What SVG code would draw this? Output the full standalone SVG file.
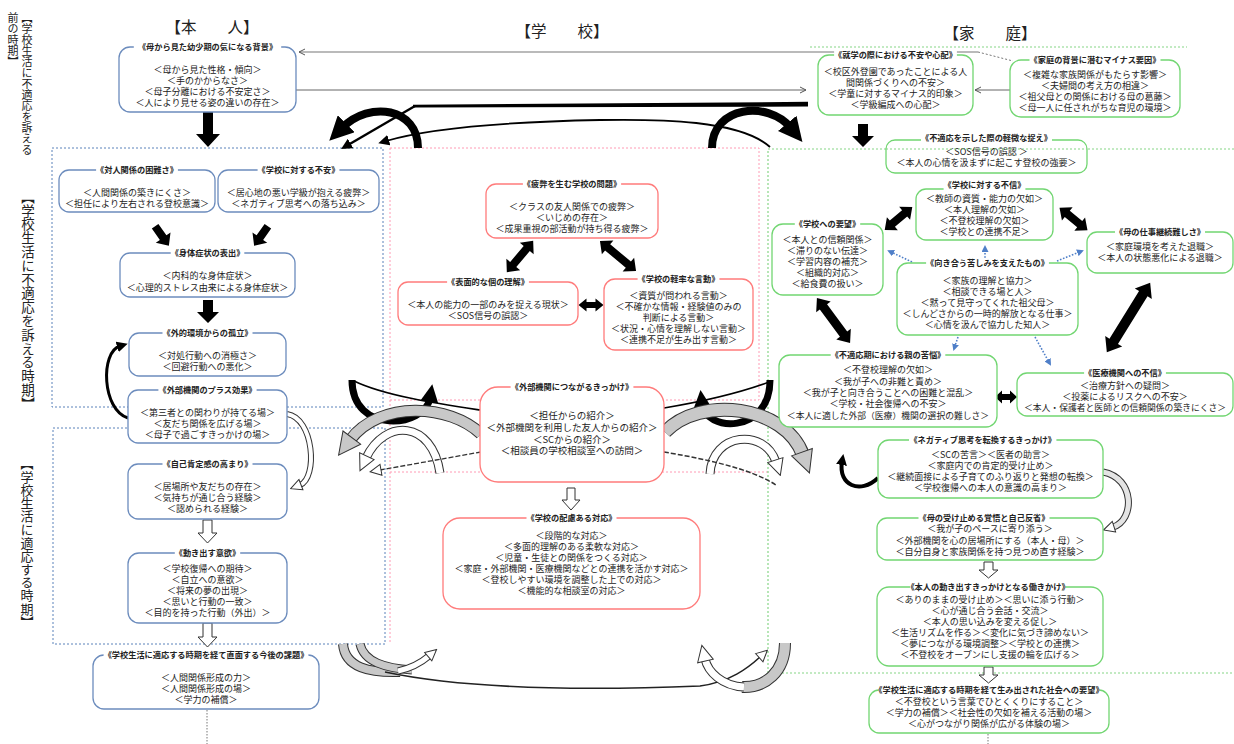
<svg xmlns="http://www.w3.org/2000/svg" width="1234" height="744" viewBox="0 0 1234 744">
<defs>
<style>
text{font-family:"Noto Sans CJK JP","Noto Sans CJK SC",sans-serif;fill:#222}
.t{font-size:9px;text-anchor:middle}
.t2{font-size:9.5px;text-anchor:middle}
.h{font-size:8.2px;font-weight:bold;text-anchor:middle}
.hd{font-size:15.5px;text-anchor:middle}
.v{writing-mode:vertical-rl}
.bx{fill:#fff;stroke-width:1.3}
.bl{stroke:#6c8cbd}
.rd{stroke:#ff7b7b}
.gr{stroke:#72d672}
.tb{fill:#fff}
.dotb{fill:none;stroke:#5b82ba;stroke-width:1;stroke-dasharray:2,2}
.dotp{fill:none;stroke:#ff9ab4;stroke-width:1;stroke-dasharray:2,2}
.dotg{fill:none;stroke:#86d686;stroke-width:1.2;stroke-dasharray:2,2}
.blk{fill:#000}
.wht{fill:#fff;stroke:#333;stroke-width:1}
.bo{fill:none;stroke:#333}
.bw{fill:none;stroke:#fff}
.bg{fill:none;stroke:#c8c8c8}
.ln{fill:none;stroke:#000}
.ba{fill:none;stroke:#4f7fc8;stroke-width:1.6;stroke-dasharray:1.6,1.6;marker-end:url(#mb)}
</style>
<marker id="mh" markerUnits="userSpaceOnUse" markerWidth="24" markerHeight="24" viewBox="0 0 24 24" refX="6" refY="12" orient="auto"><path d="M0,0 L24,12 L0,24z" fill="#000"/></marker>
<marker id="mm" markerUnits="userSpaceOnUse" markerWidth="18" markerHeight="18" viewBox="0 0 18 18" refX="4" refY="9" orient="auto"><path d="M0,0 L18,9 L0,18z" fill="#000"/></marker>
<marker id="ms" markerUnits="userSpaceOnUse" markerWidth="11" markerHeight="11" viewBox="0 0 11 11" refX="3" refY="5.5" orient="auto"><path d="M0,0 L11,5.5 L0,11z" fill="#000"/></marker>
<marker id="mt" markerUnits="userSpaceOnUse" markerWidth="8" markerHeight="8" viewBox="0 0 8 8" refX="7" refY="4" orient="auto"><path d="M1,1 L7,4 L1,7" fill="none" stroke="#555" stroke-width="1"/></marker>
<marker id="mw" markerUnits="userSpaceOnUse" markerWidth="18" markerHeight="18" viewBox="0 0 18 18" refX="3" refY="9" orient="auto"><path d="M1,1 L17,9 L1,17z" fill="#fff" stroke="#333" stroke-width="1"/></marker>
<marker id="mws" markerUnits="userSpaceOnUse" markerWidth="13" markerHeight="13" viewBox="0 0 13 13" refX="2" refY="6.5" orient="auto"><path d="M1,1 L12,6.5 L1,12z" fill="#fff" stroke="#333" stroke-width="1"/></marker>
<marker id="mg" markerUnits="userSpaceOnUse" markerWidth="24" markerHeight="24" viewBox="0 0 24 24" refX="4" refY="12" orient="auto"><path d="M1,1 L23,12 L1,23z" fill="#c8c8c8" stroke="#333" stroke-width="1"/></marker>
<marker id="mb" markerUnits="userSpaceOnUse" markerWidth="7" markerHeight="7" viewBox="0 0 7 7" refX="5" refY="3.5" orient="auto"><path d="M0,0 L7,3.5 L0,7z" fill="#4f7fc8"/></marker>
</defs>
<rect width="1234" height="744" fill="#fff"/>

<g id="regions">
<rect class="dotb" x="52" y="148" width="331" height="259"/>
<rect class="dotb" x="53" y="428" width="332" height="216"/>
<rect class="dotp" x="390" y="148" width="369" height="252"/>
<path class="dotp" d="M390,400 V643 M390,472 H768"/>
<path class="dotg" d="M1234,149 H768 V673 H1234 M810,47 H1187"/>
<path d="M207,710 V744 M988,734 V744" fill="none" stroke="#777" stroke-width="1" stroke-dasharray="1.5,1.5"/>
</g>

<g id="labels">
<text class="v" x="27" y="12" style="font-size:11px">【学校生活に不適応を訴える</text>
<text class="v" x="13" y="12" style="font-size:11px">前の時期】</text>
<text class="v" x="28" y="190" style="font-size:13.5px;letter-spacing:0.3px">【学校生活に不適応を訴える時期】</text>
<text class="v" x="27" y="457" style="font-size:13px;letter-spacing:0.2px">【学校生活に適応する時期】</text>
<text class="hd" x="212" y="33">【本　　人】</text>
<text class="hd" x="562" y="37">【学　　校】</text>
<text class="hd" x="990" y="39">【家　　庭】</text>
</g>

<g id="connectors">
<path d="M978,52 H299" fill="none" stroke="#777" stroke-width="1.2" marker-end="url(#mt)"/>
<path d="M978,52 L1013,61" fill="none" stroke="#777" stroke-width="1" stroke-dasharray="2,2"/>
<path d="M296,90 H806" fill="none" stroke="#666" stroke-width="1" marker-end="url(#mt)"/>
<path d="M1010,90 H975" fill="none" stroke="#666" stroke-width="1" marker-end="url(#mt)"/>
<polygon class="blk" points="413,104.8 808,101.8 808,106.6 413,107.4"/>
<path class="ln" d="M415,106 L348,145" stroke-width="2.4" marker-end="url(#ms)"/>
<path class="ln" d="M770,147 C740,120 660,119 600,120 C500,122 430,128 386,141" stroke-width="1.8" marker-end="url(#ms)"/>
<path class="ln" d="M418,148 C418,108 370,100 342,128" stroke-width="8" marker-end="url(#mh)"/>
<path class="ln" d="M712,148 C712,106 768,100 791,128" stroke-width="8" marker-end="url(#mh)"/>

<path class="blk" d="M203,110 H213 V134 H220 L208,147 L196,134 H203 Z"/>
<path class="blk" d="M858,124 H868 V136 H874 L863,147 L852,136 H858 Z"/>
<path class="blk" d="M203,300 H213 V312 H219 L208,323 L197,312 H203 Z"/>
<path class="blk" transform="translate(162,236) rotate(55)" d="M-12,-4 L2,-4 L2,-9 L12,0 L2,9 L2,4 L-12,4Z"/>
<path class="blk" transform="translate(261,236) rotate(125)" d="M-12,-4 L2,-4 L2,-9 L12,0 L2,9 L2,4 L-12,4Z"/>

<path class="wht" d="M203,520 H212 V533 H217 L207.5,543 L198,533 H203 Z"/>
<path class="wht" d="M203,623 H212 V637 H217 L207.5,647 L198,637 H203 Z"/>
<path class="wht" d="M567,488 H575 V500 H580 L571,510 L562,500 H567 Z"/>
<path class="wht" d="M984,562 H993 V570 H998 L988.5,578 L979,570 H984 Z"/>
<path class="wht" d="M984,667 H993 V675 H998 L988.5,683 L979,675 H984 Z"/>

<path class="blk" transform="translate(520,256.5) rotate(130)" d="M-20.5,0 L-10.5,-9 L-10.5,-4 L10.5,-4 L10.5,-9 L20.5,0 L10.5,9 L10.5,4 L-10.5,4 L-10.5,9Z"/>
<path class="blk" transform="translate(618,256) rotate(39.8)" d="M-23.5,0 L-13.5,-9 L-13.5,-4 L13.5,-4 L13.5,-9 L23.5,0 L13.5,9 L13.5,4 L-13.5,4 L-13.5,9Z"/>
<path class="blk" transform="translate(591,305)" d="M-12.5,0 L-4.5,-6.5 L-4.5,-3 L4.5,-3 L4.5,-6.5 L12.5,0 L4.5,6.5 L4.5,3 L-4.5,3 L-4.5,6.5Z"/>
<path class="blk" transform="translate(898.5,218.5) rotate(-40)" d="M-18,0 L-8,-8.5 L-8,-4 L8,-4 L8,-8.5 L18,0 L8,8.5 L8,4 L-8,4 L-8,8.5Z"/>
<path class="blk" transform="translate(1073.5,219) rotate(39)" d="M-18,0 L-8,-8.5 L-8,-4 L8,-4 L8,-8.5 L18,0 L8,8.5 L8,4 L-8,4 L-8,8.5Z"/>
<path class="blk" transform="translate(833.5,320.5) rotate(53.7)" d="M-28,0 L-17,-9 L-17,-4.5 L17,-4.5 L17,-9 L28,0 L17,9 L17,4.5 L-17,4.5 L-17,9Z"/>
<path class="blk" transform="translate(1006,397)" d="M-11,0 L-4,-6.5 L-4,-3 L4,-3 L4,-6.5 L11,0 L4,6.5 L4,3 L-4,3 L-4,6.5Z"/>
<path class="blk" transform="translate(1128.5,317.5) rotate(121.9)" d="M-41,0 L-28,-10 L-28,-5 L28,-5 L28,-10 L41,0 L28,10 L28,5 L-28,5 L-28,10Z"/>

<path class="ln" d="M128,418 C102,410 100,352 120,346" stroke-width="3" marker-end="url(#ms)"/>
<path class="bo" d="M287,414 C314,418 318,478 300,485" stroke-width="6"/>
<path class="bw" d="M287,414 C314,418 318,478 300,485" stroke-width="4" marker-end="url(#mws)"/>

<path class="ln" d="M480,410 C440,404 385,396 354,381" stroke-width="1.6"/>
<path class="ln" d="M352,380 C352,435 425,428 430,398" stroke-width="7" marker-end="url(#mm)"/>
<path class="bo" d="M481,434 C450,404 380,400 350,440" stroke-width="12"/>
<path class="bg" d="M481,434 C450,404 380,400 350,440" stroke-width="10" marker-end="url(#mg)"/>
<path class="bo" d="M440,473 C432,420 385,418 366,458" stroke-width="9"/>
<path class="bw" d="M440,473 C432,420 385,418 366,458" stroke-width="7" marker-end="url(#mw)"/>
<path d="M481,452 L380,470" fill="none" stroke="#333" stroke-width="1.3" stroke-dasharray="5,2" marker-end="url(#mws)"/>

<path class="ln" d="M664,408 C700,402 740,393 772,381" stroke-width="1.6"/>
<path class="ln" d="M770,380 C770,435 705,432 702,404" stroke-width="7" marker-end="url(#mm)"/>
<path class="bo" d="M665,432 C700,395 785,405 803,455" stroke-width="14"/>
<path class="bg" d="M665,432 C700,395 785,405 803,455" stroke-width="12" marker-end="url(#mg)"/>
<path class="bo" d="M710,474 C712,432 765,428 776,462" stroke-width="9"/>
<path class="bw" d="M710,474 C712,432 765,428 776,462" stroke-width="7" marker-end="url(#mw)"/>
<path d="M664,452 C700,458 750,468 776,485" fill="none" stroke="#333" stroke-width="1.5" stroke-dasharray="5,2"/>

<path class="bo" d="M343,644 C345,668 370,673 400,672" stroke-width="10"/>
<path class="bg" d="M343,644 C345,668 370,673 400,672" stroke-width="8"/>
<path class="bo" d="M360,644 C364,662 385,668 412,670" stroke-width="9"/>
<path class="bg" d="M360,644 C364,662 385,668 412,670" stroke-width="7"/>
<path class="bo" d="M398,671 C412,668 422,662 429,656" stroke-width="7"/>
<path class="bw" d="M398,671 C412,668 422,662 429,656" stroke-width="5" marker-end="url(#mws)"/>
<path d="M385,672 C470,690 600,690 700,686 C730,682 748,668 760,657" fill="none" stroke="#222" stroke-width="1.6" marker-end="url(#mws)"/>
<path class="bo" d="M785,643 C785,672 765,688 742,687" stroke-width="12"/>
<path class="bg" d="M785,643 C785,672 765,688 742,687" stroke-width="10"/>
<path class="bo" d="M744,687 C722,686 708,672 705,659" stroke-width="9"/>
<path class="bw" d="M744,687 C722,686 708,672 705,659" stroke-width="7" marker-end="url(#mw)"/>

<path class="ln" d="M878,478 C860,495 838,485 842,462" stroke-width="4" marker-end="url(#ms)"/>
<path class="bo" d="M1103,472 C1135,478 1135,520 1113,527" stroke-width="7"/>
<path d="M1103,472 C1135,478 1135,520 1113,527" fill="none" stroke="#e4e4e4" stroke-width="5" marker-end="url(#mws)"/>

<path class="ba" d="M985,261 V247"/>
<path class="ba" d="M912,262 L889,251"/>
<path class="ba" d="M1057,261 L1082,251"/>
<path class="ba" d="M958,337 L954,349"/>
<path class="ba" d="M1035,337 L1050,364"/>
</g>

<g id="b1"><rect class="bx bl" x="119" y="47" width="177" height="65" rx="11"/><rect class="tb" x="133.8" y="42" width="147.4" height="10"/><text class="h" x="207.5" y="50">《母から見た幼少期の気になる背景》</text>
<text class="t" x="207.5" y="72.5">＜母から見た性格・傾向＞</text><text class="t" x="207.5" y="83.5">＜手のかからなさ＞</text><text class="t" x="207.5" y="94.5">＜母子分離における不安定さ＞</text><text class="t" x="207.5" y="105.5">＜人により見せる姿の違いの存在＞</text></g>

<g id="b2"><rect class="bx bl" x="59" y="170" width="156" height="42" rx="10"/><rect class="tb" x="96.1" y="165" width="81.8" height="10"/><text class="h" x="137" y="173">《対人関係の困難さ》</text>
<text class="t" x="137" y="195.5">＜人間関係の築きにくさ＞</text><text class="t" x="137" y="206.5">＜担任により左右される登校意識＞</text></g>

<g id="b3"><rect class="bx bl" x="218" y="170" width="161" height="42" rx="10"/><rect class="tb" x="257.6" y="165" width="81.8" height="10"/><text class="h" x="298.5" y="173">《学校に対する不安》</text>
<text class="t" x="298.5" y="195.5">＜居心地の悪い学級が抱える疲弊＞</text><text class="t" x="298.5" y="206.5">＜ネガティブ思考への落ち込み＞</text></g>

<g id="b4"><rect class="bx bl" x="120" y="253" width="175" height="44" rx="10"/><rect class="tb" x="170.7" y="248" width="73.6" height="10"/><text class="h" x="207.5" y="256">《身体症状の表出》</text>
<text class="t" x="207.5" y="279.4">＜内科的な身体症状＞</text><text class="t" x="207.5" y="291.2">＜心理的ストレス由来による身体症状＞</text></g>

<g id="b5"><rect class="bx bl" x="129" y="333" width="157" height="43" rx="10"/><rect class="tb" x="162.5" y="328" width="90" height="10"/><text class="h" x="207.5" y="336">《外的環境からの孤立》</text>
<text class="t" x="207.5" y="358.8">＜対処行動への消極さ＞</text><text class="t" x="207.5" y="369.8">＜回避行動への悪化＞</text></g>

<g id="b6"><rect class="bx bl" x="128" y="390" width="159" height="53" rx="10"/><rect class="tb" x="158.4" y="385" width="98.2" height="10"/><text class="h" x="207.5" y="393">《外部機関のプラス効果》</text>
<text class="t" x="207.5" y="415.5">＜第三者との関わりが持てる場＞</text><text class="t" x="207.5" y="426.5">＜友だち関係を広げる場＞</text><text class="t" x="207.5" y="437.5">＜母子で過ごすきっかけの場＞</text></g>

<g id="b7"><rect class="bx bl" x="128" y="464" width="159" height="55" rx="10"/><rect class="tb" x="162.5" y="459" width="90" height="10"/><text class="h" x="207.5" y="467">《自己肯定感の高まり》</text>
<text class="t" x="207.5" y="489.5">＜居場所や友だちの存在＞</text><text class="t" x="207.5" y="500.5">＜気持ちが通じ合う経験＞</text><text class="t" x="207.5" y="511.5">＜認められる経験＞</text></g>

<g id="b8"><rect class="bx bl" x="128" y="553" width="159" height="70" rx="11"/><rect class="tb" x="174.8" y="548" width="65.4" height="10"/><text class="h" x="207.5" y="556">《動き出す意欲》</text>
<text class="t" x="207.5" y="572">＜学校復帰への期待＞</text><text class="t" x="207.5" y="583">＜自立への意欲＞</text><text class="t" x="207.5" y="594">＜将来の夢の出現＞</text><text class="t" x="207.5" y="605">＜思いと行動の一致＞</text><text class="t" x="207.5" y="616">＜目的を持った行動（外出）＞</text></g>

<g id="b9"><rect class="bx bl" x="93" y="655" width="226" height="54" rx="11"/><rect class="tb" x="103.6" y="650" width="204.8" height="10"/><text class="h" x="206" y="658">《学校生活に適応する時期を経て直面する今後の課題》</text>
<text class="t" x="206" y="680.5">＜人間関係形成の力＞</text><text class="t" x="206" y="691.5">＜人間関係形成の場＞</text><text class="t" x="206" y="702.5">＜学力の補償＞</text></g>

<g id="s1"><rect class="bx rd" x="486" y="184" width="172" height="54" rx="10"/><rect class="tb" x="522.9" y="179" width="98.2" height="10"/><text class="h" x="572" y="187">《疲弊を生む学校の問題》</text>
<text class="t" x="572" y="209.5">＜クラスの友人関係での疲弊＞</text><text class="t" x="572" y="220.5">＜いじめの存在＞</text><text class="t" x="572" y="231.5">＜成果重視の部活動が持ち得る疲弊＞</text></g>

<g id="s2"><rect class="bx rd" x="398" y="282" width="180" height="43" rx="10"/><rect class="tb" x="447.1" y="277" width="81.8" height="10"/><text class="h" x="488" y="285">《表面的な個の理解》</text>
<text class="t" x="488" y="308.4">＜本人の能力の一部のみを捉える現状＞</text><text class="t" x="488" y="319.4">＜SOS信号の誤認＞</text></g>

<g id="s3"><rect class="bx rd" x="604" y="279" width="149" height="71" rx="11"/><rect class="tb" x="637.6" y="274" width="81.8" height="10"/><text class="h" x="678.5" y="282">《学校の軽率な言動》</text>
<text class="t" x="678.5" y="299">＜資質が問われる言動＞</text><text class="t" x="678.5" y="310">＜不確かな情報・経験値のみの</text><text class="t" x="678.5" y="321">判断による言動＞</text><text class="t" x="678.5" y="332">＜状況・心情を理解しない言動＞</text><text class="t" x="678.5" y="343">＜連携不足が生み出す言動＞</text></g>

<g id="s4"><rect class="bx rd" x="480" y="387" width="184" height="95" rx="18"/><rect class="tb" x="510.6" y="382" width="122.8" height="10"/><text class="h" x="572" y="390">《外部機関につながるきっかけ》</text>
<text class="t2" x="572" y="419">＜担任からの紹介＞</text><text class="t2" x="572" y="430.8">＜外部機関を利用した友人からの紹介＞</text><text class="t2" x="572" y="442.6">＜SCからの紹介＞</text><text class="t2" x="572" y="454.4">＜相談員の学校相談室への訪問＞</text></g>

<g id="s5"><rect class="bx rd" x="443" y="518" width="257" height="91" rx="17"/><rect class="tb" x="526.5" y="513" width="90" height="10"/><text class="h" x="571.5" y="521">《学校の配慮ある対応》</text>
<text class="t" x="571.5" y="539.4">＜段階的な対応＞</text><text class="t" x="571.5" y="550.4">＜多面的理解のある柔軟な対応＞</text><text class="t" x="571.5" y="561.4">＜児童・生徒との関係をつくる対応＞</text><text class="t" x="571.5" y="572.4">＜家庭・外部機関・医療機関などとの連携を活かす対応＞</text><text class="t" x="571.5" y="583.4">＜登校しやすい環境を調整した上での対応＞</text><text class="t" x="571.5" y="594.4">＜機能的な相談室の対応＞</text></g>

<g id="f1"><rect class="bx gr" x="818" y="55" width="155" height="60" rx="11"/><rect class="tb" x="834.1" y="50" width="122.8" height="10"/><text class="h" x="895.5" y="58">《就学の際における不安や心配》</text>
<text class="t" x="895.5" y="74.5">＜校区外登園であったことによる人</text><text class="t" x="895.5" y="85.5">間関係づくりへの不安＞</text><text class="t" x="895.5" y="97">＜学童に対するマイナス的印象＞</text><text class="t" x="895.5" y="108">＜学級編成への心配＞</text></g>

<g id="f2"><rect class="bx gr" x="1010" y="60" width="170" height="57" rx="11"/><rect class="tb" x="1029.5" y="55" width="131" height="10"/><text class="h" x="1095" y="63">《家庭の背景に潜むマイナス要因》</text>
<text class="t" x="1095" y="77.5">＜複雑な家族関係がもたらす影響＞</text><text class="t" x="1095" y="88.5">＜夫婦間の考え方の相違＞</text><text class="t" x="1095" y="99.5">＜祖父母との関係における母の葛藤＞</text><text class="t" x="1095" y="110.5">＜母一人に任されがちな育児の環境＞</text></g>

<g id="f3"><rect class="bx gr" x="886" y="140" width="201" height="33" rx="9"/><rect class="tb" x="921" y="135" width="131" height="10"/><text class="h" x="986.5" y="141">《不適応を示した際の軽微な捉え》</text>
<text class="t" x="986.5" y="154.8">＜SOS信号の誤認 ＞</text><text class="t" x="986.5" y="165.8">＜本人の心情を汲まずに起こす登校の強要＞</text></g>

<g id="f4"><rect class="bx gr" x="916" y="189" width="137" height="51" rx="10"/><rect class="tb" x="943.6" y="182" width="81.8" height="10"/><text class="h" x="984.5" y="188">《学校に対する不信》</text>
<text class="t" x="984.5" y="201.5">＜教師の資質・能力の欠如＞</text><text class="t" x="984.5" y="212.5">＜本人理解の欠如＞</text><text class="t" x="984.5" y="223.5">＜不登校理解の欠如＞</text><text class="t" x="984.5" y="234.5">＜学校との連携不足＞</text></g>

<g id="f5"><rect class="bx gr" x="772" y="224" width="111" height="71" rx="11"/><rect class="tb" x="794.8" y="219" width="65.4" height="10"/><text class="h" x="827.5" y="227">《学校への要望》</text>
<text class="t" x="827.5" y="243">＜本人との信頼関係＞</text><text class="t" x="827.5" y="254">＜滞りのない伝達＞</text><text class="t" x="827.5" y="265">＜学習内容の補充＞</text><text class="t" x="827.5" y="276">＜組織的対応＞</text><text class="t" x="827.5" y="287">＜給食費の扱い＞</text></g>

<g id="f6"><rect class="bx gr" x="1087" y="232" width="146" height="41" rx="10"/><rect class="tb" x="1115" y="227" width="90" height="10"/><text class="h" x="1160" y="235">《母の仕事継続難しさ》</text>
<text class="t" x="1160" y="250.4">＜家庭環境を考えた退職＞</text><text class="t" x="1160" y="261.4">＜本人の状態悪化による退職＞</text></g>

<g id="f7"><rect class="bx gr" x="897" y="263" width="181" height="72" rx="11"/><rect class="tb" x="926.1" y="258" width="122.8" height="10"/><text class="h" x="987.5" y="266">《向き合う苦しみを支えたもの》</text>
<text class="t" x="987.5" y="284">＜家族の理解と協力＞</text><text class="t" x="987.5" y="295">＜相談できる場と人＞</text><text class="t" x="987.5" y="306">＜黙って見守ってくれた祖父母＞</text><text class="t" x="987.5" y="317">＜しんどさからの一時的解放となる仕事＞</text><text class="t" x="987.5" y="328">＜心情を汲んで協力した知人＞</text></g>

<g id="f8"><rect class="bx gr" x="779" y="355" width="218" height="72" rx="11"/><rect class="tb" x="830.7" y="350" width="114.6" height="10"/><text class="h" x="888" y="358">《不適応期における親の苦悩》</text>
<text class="t" x="888" y="373.4">＜不登校理解の欠如＞</text><text class="t" x="888" y="385">＜我が子への非難と責め＞</text><text class="t" x="888" y="396.2">＜我が子と向き合うことへの困難と混乱＞</text><text class="t" x="888" y="407.4">＜学校・社会復帰への不安＞</text><text class="t" x="888" y="418.6" style="font-size:8.8px">＜本人に適した外部（医療）機関の選択の難しさ＞</text></g>

<g id="f9"><rect class="bx gr" x="1017" y="373" width="216" height="43" rx="10"/><rect class="tb" x="1084.1" y="368" width="81.8" height="10"/><text class="h" x="1125" y="376">《医療機関への不信》</text>
<text class="t" x="1125" y="389.4">＜治療方針への疑問＞</text><text class="t" x="1125" y="400.4">＜投薬によるリスクへの不安＞</text><text class="t" x="1125" y="411.4" style="font-size:8.8px">＜本人・保護者と医師との信頼関係の築きにくさ＞</text></g>

<g id="f10"><rect class="bx gr" x="878" y="440" width="225" height="58" rx="11"/><rect class="tb" x="909" y="435" width="147.4" height="10"/><text class="h" x="982.7" y="443">《ネガティブ思考を転換するきっかけ》</text>
<text class="t" x="990.5" y="457.5">＜SCの苦言＞＜医者の助言＞</text><text class="t" x="990.5" y="468.5">＜家庭内での肯定的受け止め＞</text><text class="t" x="990.5" y="479.5">＜継続面接による子育てのふり返りと発想の転換＞</text><text class="t" x="990.5" y="490.5">＜学校復帰への本人の意識の高まり＞</text></g>

<g id="f11"><rect class="bx gr" x="877" y="518" width="226" height="42" rx="10"/><rect class="tb" x="918.5" y="513" width="131" height="10"/><text class="h" x="984" y="521">《母の受け止める覚悟と自己反省》</text>
<text class="t" x="990" y="532.4">＜我が子のペースに寄り添う＞</text><text class="t" x="990" y="544">＜外部機関を心の居場所にする（本人・母）＞</text><text class="t" x="990" y="555.4">＜自分自身と家族関係を持つ見つめ直す経験＞</text></g>

<g id="f12"><rect class="bx gr" x="877" y="587" width="226" height="79" rx="12"/><rect class="tb" x="910" y="582" width="155.6" height="10"/><text class="h" x="988" y="590">《本人の動き出すきっかけとなる働きかけ》</text>
<text class="t" x="990" y="603">＜ありのままの受け止め＞＜思いに添う行動＞</text><text class="t" x="990" y="614">＜心が通じ合う会話・交流＞</text><text class="t" x="990" y="625">＜本人の思い込みを変える促し＞</text><text class="t" x="990" y="636">＜生活リズムを作る＞＜変化に気づき諦めない＞</text><text class="t" x="990" y="647">＜夢につながる環境調整＞＜学校との連携＞</text><text class="t" x="990" y="658">＜不登校をオープンにし支援の輪を広げる＞</text></g>

<g id="f13"><rect class="bx gr" x="869" y="690" width="240" height="43" rx="10"/><rect class="tb" x="878.4" y="685" width="221.2" height="10"/><text class="h" x="989" y="693">《学校生活に適応する時期を経て生み出された社会への要望》</text>
<text class="t" x="989" y="705.4">＜不登校という言葉でひとくくりにすること＞</text><text class="t" x="989" y="716.4">＜学力の補償＞＜社会性の欠如を補える活動の場＞</text><text class="t" x="989" y="727.4">＜心がつながり関係が広がる体験の場＞</text></g>

<path class="dotg" d="M886,149 H1087"/>
</svg>
